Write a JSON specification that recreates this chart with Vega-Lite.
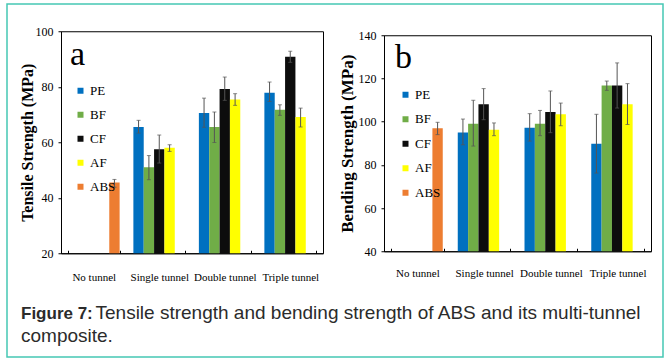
{
  "$schema": "https://vega.github.io/schema/vega-lite/v6.json",
  "background": "white",
  "padding": {"left": 7, "top": 4, "right": 0, "bottom": 0},
  "datasets": {
    "tensile": [
      {"tunnel": "No tunnel", "series": "ABS", "value": 45.5, "lo": 43.8, "hi": 46.6},
      {"tunnel": "Single tunnel", "series": "PE", "value": 65.5, "lo": 63.3, "hi": 67.9},
      {"tunnel": "Single tunnel", "series": "BF", "value": 51.0, "lo": 46.5, "hi": 55.2},
      {"tunnel": "Single tunnel", "series": "CF", "value": 57.5, "lo": 52.5, "hi": 62.6},
      {"tunnel": "Single tunnel", "series": "AF", "value": 58.0, "lo": 56.7, "hi": 59.1},
      {"tunnel": "Double tunnel", "series": "PE", "value": 70.5, "lo": 65.4, "hi": 75.9},
      {"tunnel": "Double tunnel", "series": "BF", "value": 65.5, "lo": 59.9, "hi": 70.9},
      {"tunnel": "Double tunnel", "series": "CF", "value": 79.2, "lo": 75.1, "hi": 83.5},
      {"tunnel": "Double tunnel", "series": "AF", "value": 75.4, "lo": 73.3, "hi": 77.5},
      {"tunnel": "Triple tunnel", "series": "PE", "value": 77.8, "lo": 74.7, "hi": 81.7},
      {"tunnel": "Triple tunnel", "series": "BF", "value": 71.7, "lo": 69.7, "hi": 73.5},
      {"tunnel": "Triple tunnel", "series": "CF", "value": 90.8, "lo": 88.8, "hi": 92.8},
      {"tunnel": "Triple tunnel", "series": "AF", "value": 69.1, "lo": 65.5, "hi": 72.3}
    ],
    "bending": [
      {"tunnel": "No tunnel", "series": "ABS", "value": 96.9, "lo": 94.0, "hi": 99.7},
      {"tunnel": "Single tunnel", "series": "PE", "value": 95.0, "lo": 89.3, "hi": 101.2},
      {"tunnel": "Single tunnel", "series": "BF", "value": 99.0, "lo": 88.7, "hi": 109.9},
      {"tunnel": "Single tunnel", "series": "CF", "value": 108.0, "lo": 100.9, "hi": 115.3},
      {"tunnel": "Single tunnel", "series": "AF", "value": 96.3, "lo": 93.5, "hi": 99.4},
      {"tunnel": "Double tunnel", "series": "PE", "value": 97.2, "lo": 91.0, "hi": 103.7},
      {"tunnel": "Double tunnel", "series": "BF", "value": 99.0, "lo": 93.5, "hi": 105.2},
      {"tunnel": "Double tunnel", "series": "CF", "value": 104.5, "lo": 94.9, "hi": 114.2},
      {"tunnel": "Double tunnel", "series": "AF", "value": 103.4, "lo": 98.1, "hi": 108.6},
      {"tunnel": "Triple tunnel", "series": "PE", "value": 89.8, "lo": 76.2, "hi": 103.4},
      {"tunnel": "Triple tunnel", "series": "BF", "value": 116.7, "lo": 114.5, "hi": 118.8},
      {"tunnel": "Triple tunnel", "series": "CF", "value": 116.7, "lo": 106.3, "hi": 127.2},
      {"tunnel": "Triple tunnel", "series": "AF", "value": 108.0, "lo": 98.7, "hi": 117.6}
    ]
  },
  "config": {
    "font": "Liberation Serif",
    "view": {"stroke": "black", "strokeWidth": 1},
    "axis": {"grid": false, "domainColor": "black", "tickColor": "black", "labelColor": "black", "titleColor": "black", "labelFont": "Liberation Serif", "titleFont": "Liberation Serif"},
    "axisX": {"labelAngle": 0, "labelFontSize": 11, "tickBand": "extent", "tickSize": -3, "labelPadding": 21, "title": null},
    "axisY": {"labelFontSize": 12, "tickSize": 3, "labelPadding": 5, "titleFontWeight": "bold"},
    "legend": {"orient": "none", "symbolType": "square", "symbolSize": 36, "symbolStrokeWidth": 0, "labelFont": "Liberation Serif", "labelFontSize": 13, "labelColor": "black", "labelOffset": 3, "rowPadding": 10, "titleFont": "Liberation Serif", "titleFontSize": 34, "titleFontWeight": "normal", "titleColor": "black", "titlePadding": 12, "padding": 0, "symbolOffset": 4}
  },
  "title": {
    "text": "Figure 7:",
    "subtitle": "composite.",
    "orient": "bottom",
    "anchor": "start",
    "dx": 14,
    "offset": -52.5,
    "font": "Liberation Sans",
    "fontSize": 17,
    "fontWeight": "bold",
    "color": "#2b2b2b",
    "subtitleFont": "Liberation Sans",
    "subtitleFontSize": 19,
    "subtitleColor": "#2b2b2b",
    "subtitlePadding": 4.5
  },
  "vconcat": [
    {
      "title": {
        "text": "Tensile strength and bending strength of ABS and its multi-tunnel",
        "orient": "bottom",
        "anchor": "start",
        "dx": 77,
        "offset": 21,
        "font": "Liberation Sans",
        "fontSize": 19,
        "fontWeight": "normal",
        "color": "#2b2b2b"
      },
      "resolve": {"scale": {"color": "independent"}, "legend": {"color": "independent"}},
      "hconcat": [
        {
          "width": 262,
          "height": 222,
          "data": {"name": "tensile"},
          "encoding": {
            "x": {"field": "tunnel", "type": "nominal", "sort": ["No tunnel", "Single tunnel", "Double tunnel", "Triple tunnel"], "scale": {"paddingInner": 0.21, "paddingOuter": 0.105}},
            "xOffset": {"field": "series", "type": "nominal", "scale": {"domain": ["PE", "BF", "CF", "AF", "ABS"], "paddingInner": 0, "paddingOuter": 0}}
          },
          "layer": [
            {
              "mark": {"type": "bar", "clip": true},
              "encoding": {
                "y": {"field": "value", "type": "quantitative", "scale": {"domain": [20, 100], "nice": false, "zero": false}, "title": "Tensile Strength (MPa)",
                  "axis": {"values": [20, 30, 40, 50, 60, 70, 80, 90, 100], "labelExpr": "datum.value % 20 == 0 ? datum.label : ''", "titleFontSize": 16, "titlePadding": 0}},
                "color": {"field": "series", "type": "nominal", "scale": {"domain": ["PE", "BF", "CF", "AF", "ABS"], "range": ["#0070C0", "#70AD47", "#0D0D0D", "#FFFF00", "#ED7D31"]},
                  "legend": {"title": "a", "legendX": 9, "legendY": 7}}
              }
            },
            {
              "mark": {"type": "rule", "color": "#555555", "strokeWidth": 1},
              "encoding": {"y": {"field": "lo", "type": "quantitative"}, "y2": {"field": "hi"}}
            },
            {
              "mark": {"type": "tick", "color": "#555555", "size": 4, "thickness": 1, "orient": "horizontal"},
              "encoding": {"y": {"field": "lo", "type": "quantitative"}}
            },
            {
              "mark": {"type": "tick", "color": "#555555", "size": 4, "thickness": 1, "orient": "horizontal"},
              "encoding": {"y": {"field": "hi", "type": "quantitative"}}
            },
            {
              "mark": {"type": "rule", "strokeWidth": 1},
              "encoding": {
                "y": {"field": "lo", "type": "quantitative"},
                "y2": {"field": "hi"},
                "stroke": {"field": "value", "type": "quantitative", "scale": {"range": ["rgba(255,255,255,0)", "rgba(255,255,255,0)"]},
                  "legend": {"type": "gradient", "title": null, "direction": "horizontal", "gradientLength": 656, "gradientThickness": 353, "gradientStrokeColor": "#45c8b4", "gradientStrokeWidth": 1.5, "labelExpr": "''", "labelFontSize": 0, "labelOffset": 0, "labelOpacity": 0, "legendX": -54, "legendY": -27, "padding": 0}}
              }
            }
          ]
        },
        {
          "width": 267,
          "height": 216,
          "data": {"name": "bending"},
          "encoding": {
            "x": {"field": "tunnel", "type": "nominal", "sort": ["No tunnel", "Single tunnel", "Double tunnel", "Triple tunnel"], "scale": {"paddingInner": 0.21, "paddingOuter": 0.105}, "axis": {"labelPadding": 19}},
            "xOffset": {"field": "series", "type": "nominal", "scale": {"domain": ["PE", "BF", "CF", "AF", "ABS"], "paddingInner": 0, "paddingOuter": 0}}
          },
          "layer": [
            {
              "mark": {"type": "bar", "clip": true},
              "encoding": {
                "y": {"field": "value", "type": "quantitative", "scale": {"domain": [40, 140], "nice": false, "zero": false}, "title": "Bending Strength (MPa)",
                  "axis": {"values": [40, 50, 60, 70, 80, 90, 100, 110, 120, 130, 140], "labelExpr": "datum.value % 20 == 0 ? datum.label : ''", "titleFontSize": 17, "titlePadding": 2}},
                "color": {"field": "series", "type": "nominal", "scale": {"domain": ["PE", "BF", "CF", "AF", "ABS"], "range": ["#0070C0", "#70AD47", "#0D0D0D", "#FFFF00", "#ED7D31"]},
                  "legend": {"title": "b", "legendX": 11, "legendY": 6, "titlePadding": 13, "rowPadding": 10.5}}
              }
            },
            {
              "mark": {"type": "rule", "color": "#555555", "strokeWidth": 1},
              "encoding": {"y": {"field": "lo", "type": "quantitative"}, "y2": {"field": "hi"}}
            },
            {
              "mark": {"type": "tick", "color": "#555555", "size": 4, "thickness": 1, "orient": "horizontal"},
              "encoding": {"y": {"field": "lo", "type": "quantitative"}}
            },
            {
              "mark": {"type": "tick", "color": "#555555", "size": 4, "thickness": 1, "orient": "horizontal"},
              "encoding": {"y": {"field": "hi", "type": "quantitative"}}
            }
          ]
        }
      ],
      "spacing": 13,
      "center": true
    }
  ]
}
